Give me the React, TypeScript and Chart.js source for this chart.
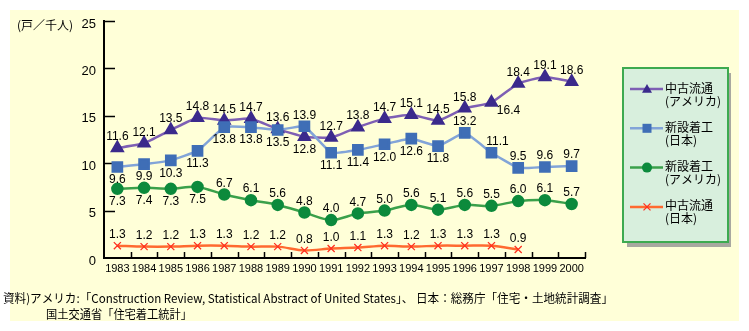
import { useEffect, useRef } from "react";
import { Chart, registerables } from "chart.js";

Chart.register(...registerables);

// ---- data ----
const years = ["1983", "1984", "1985", "1986", "1987", "1988", "1989", "1990", "1991", "1992", "1993", "1994", "1995", "1996", "1997", "1998", "1999", "2000"];
const usExisting = [11.6, 12.1, 13.5, 14.8, 14.5, 14.7, 13.6, 12.8, 12.7, 13.8, 14.7, 15.1, 14.5, 15.8, 16.4, 18.4, 19.1, 18.6];
const jpNew = [9.6, 9.9, 10.3, 11.3, 13.8, 13.8, 13.5, 13.9, 11.1, 11.4, 12.0, 12.6, 11.8, 13.2, 11.1, 9.5, 9.6, 9.7];
const usNew = [7.3, 7.4, 7.3, 7.5, 6.7, 6.1, 5.6, 4.8, 4.0, 4.7, 5.0, 5.6, 5.1, 5.6, 5.5, 6.0, 6.1, 5.7];
const jpExisting = [1.3, 1.2, 1.2, 1.3, 1.3, 1.2, 1.2, 0.8, 1.0, 1.1, 1.3, 1.2, 1.3, 1.3, 1.3, 0.9, null, null];
const yTicks = [0, 5, 10, 15, 20, 25];
const unitLabel = "(戸／千人)";
const seriesNames = [
  ["中古流通", "(アメリカ)"],
  ["新設着工", "(日本)"],
  ["新設着工", "(アメリカ)"],
  ["中古流通", "(日本)"],
];
const sourceLines = [
  "資料)アメリカ:「Construction Review, Statistical Abstract of United States」、 日本：総務庁「住宅・土地統計調査」",
  "国土交通省「住宅着工統計」",
];

// label placement (style): indexes whose value label sits below / above the point
const usExistingBelow = [7, 14];
const jpNewAbove = [7, 13, 14, 15, 16, 17];
const usNewBelow = [0, 1, 2, 3];

const NUM_FONT = '"Liberation Sans", Arial, sans-serif';
const JP_FONT = '"Noto Sans CJK JP", "Noto Sans", sans-serif';

function drawMarker(ctx: CanvasRenderingContext2D, style: string, x: number, y: number, r: number, fill: string) {
  ctx.save();
  ctx.fillStyle = fill;
  ctx.strokeStyle = fill;
  ctx.beginPath();
  if (style === "triangle") {
    ctx.moveTo(x, y - r);
    ctx.lineTo(x + r, y + r * 0.75);
    ctx.lineTo(x - r, y + r * 0.75);
    ctx.closePath();
    ctx.fill();
  } else if (style === "rect") {
    ctx.fillRect(x - r, y - r, 2 * r, 2 * r);
  } else if (style === "circle") {
    ctx.arc(x, y, r, 0, Math.PI * 2);
    ctx.fill();
  } else {
    ctx.lineWidth = 1.3;
    ctx.moveTo(x - r, y - r);
    ctx.lineTo(x + r, y + r);
    ctx.moveTo(x + r, y - r);
    ctx.lineTo(x - r, y + r);
    ctx.stroke();
  }
  ctx.restore();
}

const decorPlugin = {
  id: "decor",
  beforeDraw(chart: any) {
    const ctx = chart.ctx;
    ctx.save();
    ctx.fillStyle = "#FFFFD8";
    ctx.fillRect(10, 10, 729, 311);
    ctx.restore();
  },
  beforeDatasetsDraw(chart: any) {
    const { ctx, chartArea } = chart;
    const x = chart.scales.x;
    const y = chart.scales.y;
    ctx.save();
    ctx.strokeStyle = "#000";
    ctx.lineWidth = 1.5;
    ctx.beginPath();
    yTicks.forEach((v) => {
      if (v === 0) return;
      const py = Math.round(y.getPixelForValue(v)) + 0.5;
      ctx.moveTo(chartArea.left, py);
      ctx.lineTo(chartArea.left + 11, py);
    });
    for (let i = 1; i <= years.length; i++) {
      const px = Math.round(x.getPixelForValue(i - 0.5)) + 0.5;
      ctx.moveTo(px, chartArea.bottom);
      ctx.lineTo(px, chartArea.bottom - 6);
    }
    ctx.stroke();
    // unit label
    ctx.fillStyle = "#000";
    ctx.font = "12px " + JP_FONT;
    ctx.textAlign = "left";
    ctx.textBaseline = "middle";
    ctx.fillText(unitLabel, 17, y.getPixelForValue(25) + 4, 58);
    ctx.restore();
  },
  afterDatasetsDraw(chart: any) {
    const ctx = chart.ctx;
    ctx.save();
    ctx.fillStyle = "#000";
    ctx.font = "12px " + NUM_FONT;
    ctx.textAlign = "center";
    ctx.textBaseline = "middle";
    chart.data.datasets.forEach((ds: any, di: number) => {
      const meta = chart.getDatasetMeta(di);
      ds.data.forEach((v: number | null, i: number) => {
        if (v == null) return;
        const el = meta.data[i];
        const below = ds.labelBelow(i);
        let dx = 0;
        let dy = below ? 13 : -11;
        const shift = ds.labelShift && ds.labelShift[i];
        if (shift) {
          dx = shift[0];
          dy = shift[1];
        }
        ctx.fillText(v.toFixed(1), el.x + dx, el.y + dy);
      });
    });
    ctx.restore();
  },
  afterDraw(chart: any) {
    const ctx = chart.ctx;
    ctx.save();
    // legend
    ctx.fillStyle = "#A8A8A0";
    ctx.fillRect(627, 73, 104, 174);
    ctx.fillStyle = "#D8EFDD";
    ctx.fillRect(623, 68, 105, 174);
    ctx.strokeStyle = "#3DAA50";
    ctx.lineWidth = 2;
    ctx.strokeRect(623, 68, 105, 174);
    chart.data.datasets.forEach((ds: any, k: number) => {
      const cy = 89 + k * 39.3;
      ctx.strokeStyle = ds.borderColor;
      ctx.lineWidth = 2.5;
      ctx.beginPath();
      ctx.moveTo(630, cy);
      ctx.lineTo(663, cy);
      ctx.stroke();
      drawMarker(ctx, ds.pointStyle, 647, cy, ds.legendMarker, ds.pointBackgroundColor);
      ctx.fillStyle = "#000";
      ctx.font = "12px " + JP_FONT;
      ctx.textAlign = "left";
      ctx.textBaseline = "middle";
      ctx.fillText(seriesNames[k][0], 665, cy - 1, 48);
      ctx.fillText(seriesNames[k][1], 665, cy + 12, 60);
    });
    // source note
    ctx.fillStyle = "#000";
    ctx.font = "12px " + JP_FONT;
    ctx.textAlign = "left";
    ctx.textBaseline = "middle";
    ctx.fillText(sourceLines[0], 3, 298, 610);
    ctx.fillText(sourceLines[1], 46, 314, 146);
    ctx.restore();
  },
};

export default function App() {
  const ref = useRef<HTMLCanvasElement>(null);
  useEffect(() => {
    if (!ref.current) return;
    const chart = new Chart(ref.current, {
      type: "line",
      data: {
        labels: years,
        datasets: [
          {
            label: seriesNames[0].join(""),
            data: usExisting,
            borderColor: "#7E5FB4",
            borderWidth: 2.5,
            pointStyle: "triangle",
            pointRadius: 6,
            pointBackgroundColor: "#3B2A8C",
            pointBorderColor: "#3B2A8C",
            tension: 0.15,
            order: 2,
            legendMarker: 5,
            labelBelow: (i: number) => usExistingBelow.includes(i),
            labelShift: { 14: [17, 8] },
          } as any,
          {
            label: seriesNames[1].join(""),
            data: jpNew,
            borderColor: "#82A4D8",
            borderWidth: 2.5,
            pointStyle: "rect",
            pointRadius: 6.5,
            pointBackgroundColor: "#3F6EB6",
            pointBorderColor: "#3F6EB6",
            tension: 0.1,
            order: 1,
            legendMarker: 4.5,
            labelBelow: (i: number) => !jpNewAbove.includes(i),
            labelShift: { 14: [6, -11] },
          } as any,
          {
            label: seriesNames[2].join(""),
            data: usNew,
            borderColor: "#3AA04A",
            borderWidth: 2.5,
            pointStyle: "circle",
            pointRadius: 5,
            pointBackgroundColor: "#0C8A3C",
            pointBorderColor: "#0C8A3C",
            tension: 0.3,
            order: 3,
            legendMarker: 5,
            labelBelow: (i: number) => usNewBelow.includes(i),
          } as any,
          {
            label: seriesNames[3].join(""),
            data: jpExisting,
            borderColor: "#FF6A30",
            borderWidth: 2.5,
            pointStyle: "crossRot",
            pointRadius: 5,
            pointBorderWidth: 1.3,
            pointBackgroundColor: "#FF3020",
            pointBorderColor: "#FF3020",
            tension: 0.3,
            order: 4,
            legendMarker: 3.5,
            labelBelow: () => false,
          } as any,
        ],
      },
      options: {
        responsive: false,
        animation: false,
        layout: { padding: { left: 44, right: 164, top: 21, bottom: 43 } },
        plugins: { legend: { display: false }, tooltip: { enabled: false } },
        scales: {
          x: {
            type: "category",
            offset: true,
            grid: { display: false, drawTicks: false, offset: true },
            border: { display: true, color: "#000", width: 2 },
            ticks: {
              color: "#000",
              font: { family: NUM_FONT, size: 11 },
              padding: 4,
              maxRotation: 0,
              autoSkip: false,
            },
            afterFit: (s: any) => {
              s.height = 30;
            },
          },
          y: {
            min: 0,
            max: 25,
            grid: { display: false, drawTicks: false },
            border: { display: true, color: "#000", width: 2 },
            ticks: {
              stepSize: 5,
              color: "#000",
              font: { family: NUM_FONT, size: 13 },
              padding: 8,
              labelOffset: 3,
            },
            afterFit: (s: any) => {
              s.width = 60;
            },
          },
        },
      } as any,
      plugins: [decorPlugin],
    });
    return () => chart.destroy();
  }, []);
  return (
    <div style={{ position: "fixed", left: 0, top: 0, width: 749, height: 331, background: "#fff" }}>
      <canvas ref={ref} width={749} height={331} style={{ display: "block" }} />
    </div>
  );
}
